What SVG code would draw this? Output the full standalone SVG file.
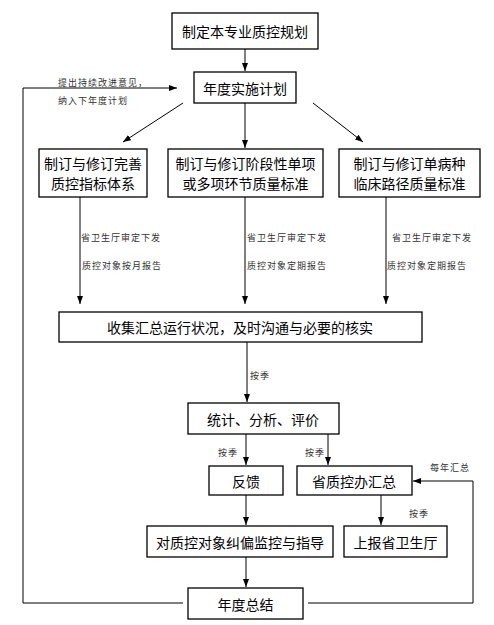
<svg xmlns="http://www.w3.org/2000/svg" width="494" height="625" viewBox="0 0 494 625">
<style>
rect.n{fill:#fff;stroke:#000;stroke-width:1.3}
text{font-family:"Noto Sans CJK SC","Noto Sans",sans-serif;fill:#000}
text.t{font-size:14px;text-anchor:middle;dominant-baseline:central}
text.s{font-size:9px;fill:#333;dominant-baseline:central;letter-spacing:1px}
.c path,.c line,.c polyline{fill:none;stroke:#000;stroke-width:1}
</style>
<defs>
<marker id="ah" viewBox="0 0 8 6" refX="8" refY="3" markerWidth="8" markerHeight="6" markerUnits="userSpaceOnUse" orient="auto">
<path d="M0,0 L8,3 L0,6 Z" fill="#000"/>
</marker>
</defs>
<rect width="494" height="625" fill="#fff"/>
<g class="c" id="connectors">
<line x1="245" y1="49" x2="245" y2="71" marker-end="url(#ah)"/>
<line x1="245" y1="103" x2="245" y2="148" marker-end="url(#ah)"/>
<line x1="183" y1="103" x2="123" y2="142" marker-end="url(#ah)"/>
<line x1="313" y1="103" x2="363" y2="142" marker-end="url(#ah)"/>
<line x1="80" y1="197" x2="80" y2="304" marker-end="url(#ah)"/>
<line x1="245" y1="197" x2="245" y2="304" marker-end="url(#ah)"/>
<line x1="386" y1="197" x2="386" y2="304" marker-end="url(#ah)"/>
<line x1="247" y1="342" x2="247" y2="402" marker-end="url(#ah)"/>
<line x1="246" y1="434" x2="246" y2="465" marker-end="url(#ah)"/>
<line x1="328" y1="434" x2="328" y2="465" marker-end="url(#ah)"/>
<line x1="246" y1="495" x2="246" y2="525" marker-end="url(#ah)"/>
<line x1="381" y1="495" x2="381" y2="525" marker-end="url(#ah)"/>
<line x1="246" y1="557" x2="246" y2="587" marker-end="url(#ah)"/>
<polyline points="183,603 23,603 23,88 177,88" marker-end="url(#ah)"/>
<polyline points="308,603 473,603 473,481 413,481" marker-end="url(#ah)"/>
</g>
<g id="labels">
<text class="s" x="58" y="82">提出持续改进意见，</text>
<text class="s" x="58" y="100">纳入下年度计划</text>
<text class="s" x="81" y="237">省卫生厅审定下发</text>
<text class="s" x="82" y="265">质控对象按月报告</text>
<text class="s" x="247" y="237">省卫生厅审定下发</text>
<text class="s" x="247" y="265">质控对象定期报告</text>
<text class="s" x="392" y="237">省卫生厅审定下发</text>
<text class="s" x="387" y="265">质控对象定期报告</text>
<text class="s" x="250" y="375">按季</text>
<text class="s" x="218" y="452">按季</text>
<text class="s" x="305" y="452">按季</text>
<text class="s" x="430" y="467">每年汇总</text>
<text class="s" x="409" y="513">按季</text>
</g>
<g id="n1"><rect class="n" x="172" y="13" width="146" height="36"/><text class="t" x="245" y="31">制定本专业质控规划</text></g>
<g id="n2"><rect class="n" x="194" y="72" width="102" height="31"/><text class="t" x="245" y="88">年度实施计划</text></g>
<g id="n3"><rect class="n" x="39" y="149" width="108" height="48"/><text class="t" x="93" y="163">制订与修订完善</text><text class="t" x="93" y="183">质控指标体系</text></g>
<g id="n4"><rect class="n" x="168" y="149" width="155" height="48"/><text class="t" x="245.500" y="163">制订与修订阶段性单项</text><text class="t" x="245.500" y="183">或多项环节质量标准</text></g>
<g id="n5"><rect class="n" x="339" y="149" width="141" height="48"/><text class="t" x="409.500" y="163">制订与修订单病种</text><text class="t" x="409.500" y="183">临床路径质量标准</text></g>
<g id="n6"><rect class="n" x="59" y="312" width="363" height="30"/><text class="t" x="240" y="327">收集汇总运行状况，及时沟通与必要的核实</text></g>
<g id="n7"><rect class="n" x="188" y="403" width="151" height="31"/><text class="t" x="263" y="419">统计、分析、评价</text></g>
<g id="n8"><rect class="n" x="209" y="466" width="74" height="29"/><text class="t" x="246" y="481">反馈</text></g>
<g id="n9"><rect class="n" x="297" y="466" width="115" height="29"/><text class="t" x="354" y="481">省质控办汇总</text></g>
<g id="n10"><rect class="n" x="147" y="526" width="186" height="31"/><text class="t" x="240" y="542">对质控对象纠偏监控与指导</text></g>
<g id="n11"><rect class="n" x="344" y="526" width="103" height="31"/><text class="t" x="395.500" y="542">上报省卫生厅</text></g>
<g id="n12"><rect class="n" x="188" y="588" width="115" height="31"/><text class="t" x="245.500" y="604">年度总结</text></g>
</svg>
